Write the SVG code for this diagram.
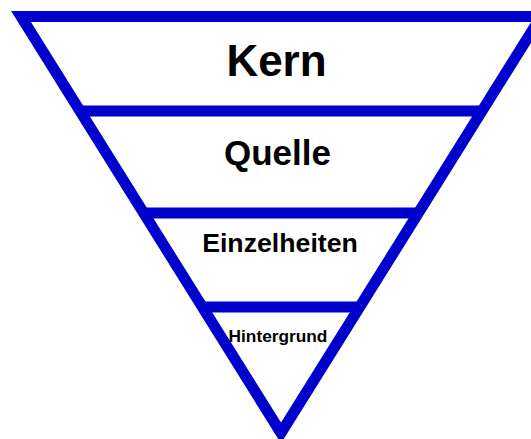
<svg xmlns="http://www.w3.org/2000/svg" width="531" height="439" viewBox="0 0 531 439">
  <style>
    .edge { fill: none; stroke: #0000cc; stroke-width: 11; stroke-linejoin: miter; stroke-miterlimit: 10; }
    .label { font-family: "Liberation Sans", Arial, sans-serif; font-weight: bold; fill: #000; text-anchor: middle; }
  </style>
  <rect width="531" height="439" fill="#fff"/>
  <g id="connectors">
    <!-- outer inverted triangle -->
    <polygon class="edge" points="21,16.5 541,16.5 281,433"/>
    <!-- layer dividers -->
    <line class="edge" x1="80" y1="111" x2="482" y2="111"/>
    <line class="edge" x1="143.6" y1="213" x2="418.4" y2="213"/>
    <line class="edge" x1="202.3" y1="307" x2="359.7" y2="307"/>
  </g>
  <g id="kern">
    <text class="label" x="276.5" y="76" font-size="44">Kern</text>
  </g>
  <g id="quelle">
    <text class="label" x="277.5" y="165" font-size="35">Quelle</text>
  </g>
  <g id="einzelheiten">
    <text class="label" x="280" y="252" font-size="26.7">Einzelheiten</text>
  </g>
  <g id="hintergrund">
    <text class="label" x="278" y="342" font-size="17.3">Hintergrund</text>
  </g>
</svg>
